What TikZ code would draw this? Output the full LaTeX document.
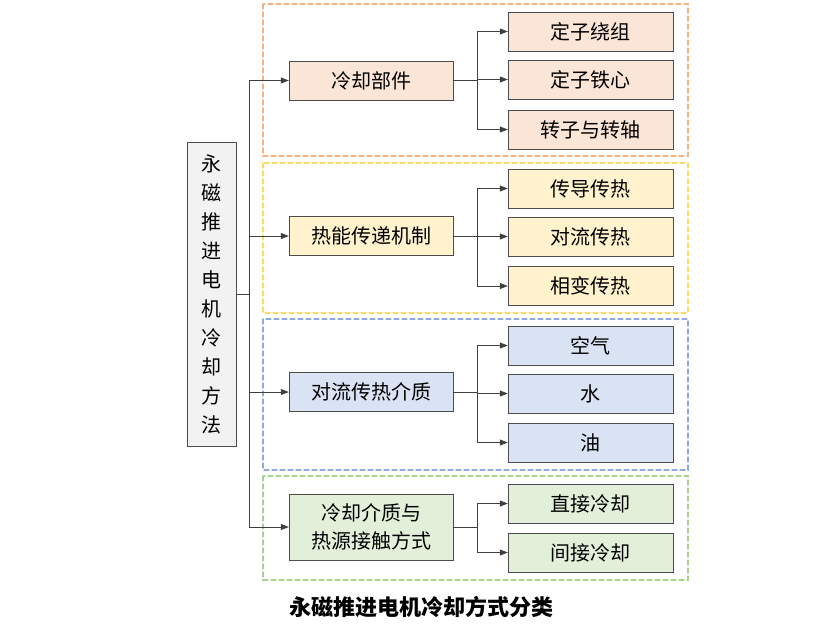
\documentclass[tikz,border=0pt]{standalone}
\usepackage{fontspec}
\setmainfont{Noto Sans CJK SC}
\usetikzlibrary{arrows.meta,positioning}
\definecolor{orF}{HTML}{FBE5D6}\definecolor{orD}{HTML}{F4B183}
\definecolor{yeF}{HTML}{FFF2CC}\definecolor{yeD}{HTML}{FFD966}
\definecolor{blF}{HTML}{DAE3F3}\definecolor{blD}{HTML}{8FAADC}
\definecolor{grF}{HTML}{E2F0D9}\definecolor{grD}{HTML}{A9D18E}
\begin{document}
\begin{tikzpicture}[x=1pt,y=-1pt,line cap=round]
  \tikzset{
    box/.style={draw=black!70, minimum width=164pt, minimum height=39pt, inner sep=0pt, font=\fontsize{20}{24}\selectfont},
    leaf/.style={box, minimum width=165pt},
    grp/.style={dashed, line width=1.2pt, dash pattern=on 5pt off 3pt},
    arr/.style={-{Triangle[length=8pt,width=6pt]}, draw=black!75, line width=0.8pt}
  }
  \useasboundingbox (0,0) rectangle (826,627);

  % group frames
  \draw[grp, orD] (263,4) rectangle (688,156);
  \draw[grp, yeD] (263,163) rectangle (688,313);
  \draw[grp, blD] (263,319) rectangle (688,470);
  \draw[grp, grD] (263,476) rectangle (688,580);

  % root
  \node[draw=black!70, fill=black!5, minimum width=49pt, minimum height=304pt, inner sep=0pt,
        align=center, font=\fontsize{20}{29}\selectfont] (root) at (211.5,294)
        {永\\磁\\推\\进\\电\\机\\冷\\却\\方\\法};

  % middle level
  \node[box, fill=orF] (parts) at (371,80.5) {冷却部件};
  \node[box, fill=yeF] (mech)  at (371,236)  {热能传递机制};
  \node[box, fill=blF] (media) at (371,392)  {对流传热介质};
  \node[box, fill=grF, minimum height=66pt, align=center, font=\fontsize{20}{28}\selectfont] (contact) at (371,527) {冷却介质与\\热源接触方式};

  % leaves
  \node[leaf, fill=orF] (winding) at (590.5,31.5)  {定子绕组};
  \node[leaf, fill=orF] (core)    at (590.5,79.5)  {定子铁心};
  \node[leaf, fill=orF] (rotor)   at (590.5,129.5) {转子与转轴};
  \node[leaf, fill=yeF] (conduct) at (590.5,188.5) {传导传热};
  \node[leaf, fill=yeF] (convect) at (590.5,236.5) {对流传热};
  \node[leaf, fill=yeF] (phase)   at (590.5,286)   {相变传热};
  \node[leaf, fill=blF] (air)     at (590.5,345.5) {空气};
  \node[leaf, fill=blF] (water)   at (590.5,393.5) {水};
  \node[leaf, fill=blF] (oil)     at (590.5,442.5) {油};
  \node[leaf, fill=grF] (direct)  at (590.5,503.5) {直接冷却};
  \node[leaf, fill=grF] (indirect) at (590.5,552.5) {间接冷却};

  % trunk
  \coordinate (t) at (249,294);
  \draw[draw=black!75, line width=0.8pt] (root.east) -- (t);
  \foreach \m in {parts,mech,media,contact}
    \draw[arr] (t) |- (\m.west);

  % branches
  \foreach \m/\a/\b/\c in {parts/winding/core/rotor, mech/conduct/convect/phase, media/air/water/oil}{
    \coordinate (j) at ([xshift=24pt]\m.east);
    \draw[draw=black!75, line width=0.8pt] (\m.east) -- (j);
    \foreach \l in {\a,\b,\c} \draw[arr] (j) |- (\l.west);
  }
  \coordinate (j) at ([xshift=24pt]contact.east);
  \draw[draw=black!75, line width=0.8pt] (contact.east) -- (j);
  \foreach \l in {direct,indirect} \draw[arr] (j) |- (\l.west);

  \node[font=\fontsize{22}{26}\selectfont\bfseries] (caption) at (421,607) {永磁推进电机冷却方式分类};
\end{tikzpicture}
\end{document}
